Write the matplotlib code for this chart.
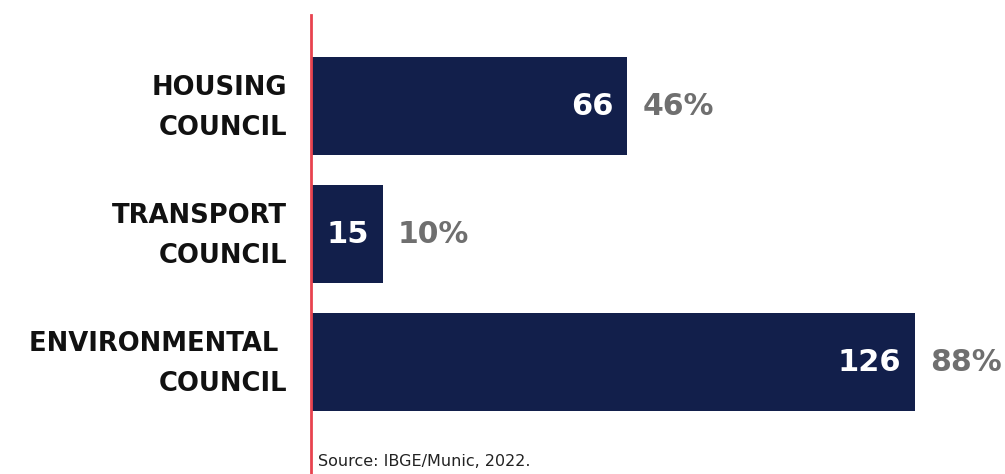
import matplotlib
matplotlib.use('Agg')
import matplotlib.pyplot as plt

# data
categories = ['HOUSING\nCOUNCIL', 'TRANSPORT\nCOUNCIL', 'ENVIRONMENTAL \nCOUNCIL']
counts = [66, 15, 126]
shares = ['46%', '10%', '88%']

navy = '#121f4b'
red = '#e8434f'
grey = '#6f6f6f'

plt.rcParams['font.family'] = ['DejaVu Sans']

fig = plt.figure(figsize=(10.05, 4.74), dpi=100)
# axes spans from the red line to the right edge
ax = fig.add_axes([311 / 1005, 0, 1 - 311 / 1005, 459 / 474])

y = list(range(len(categories)))
ax.barh(y, counts, height=0.76, color=navy)

ax.set_xlim(0, 126 * (1005 - 311) / 604)
ax.set_ylim(2.875, -0.711)

for s in ['top', 'right', 'bottom']:
    ax.spines[s].set_visible(False)
ax.spines['left'].set_color(red)
ax.spines['left'].set_linewidth(2)
ax.set_xticks([])
ax.set_yticks([])

for i, (cat, c, p) in enumerate(zip(categories, counts, shares)):
    ax.annotate(cat, xy=(0, i), xytext=(-24, -2), textcoords='offset pixels',
                ha='right', va='center', fontsize=18.6, fontweight='bold',
                color='#111111', linespacing=1.68, annotation_clip=False)
    ax.annotate(str(c), xy=(c, i), xytext=(-14, 0), textcoords='offset pixels',
                ha='right', va='center', fontsize=22, fontweight='bold',
                color='white')
    ax.annotate(p, xy=(c, i), xytext=(15, 0), textcoords='offset pixels',
                ha='left', va='center', fontsize=21.5, fontweight='bold',
                color=grey)

fig.text(318 / 1005, 1 - 462 / 474, 'Source: IBGE/Munic, 2022.',
         fontsize=11.5, color='#222222', va='center', ha='left')

fig.savefig('out.png', dpi=100)
